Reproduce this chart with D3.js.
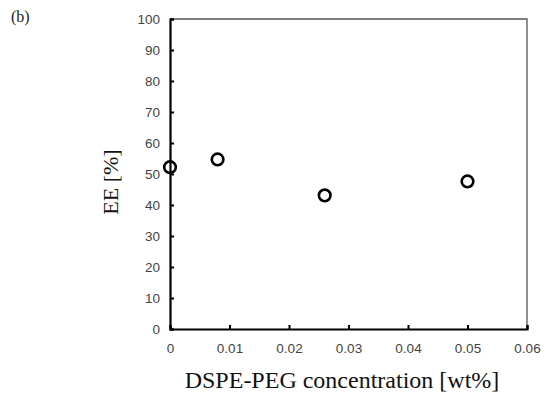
<!DOCTYPE html>
<html>
<head>
<meta charset="utf-8">
<script src="https://cdn.jsdelivr.net/npm/d3@7"></script>
<style>
  body { margin: 0; background: #fff; }
  svg { display: block; }
</style>
</head>
<body>
<div id="drawing"></div>
<script>
// DSPE-PEG concentration [wt%] vs EE [%]
var concentration = [0, 0.008, 0.026, 0.05];
var ee = [52.2, 54.7, 43.1, 47.6];
var xTicks = [0, 0.01, 0.02, 0.03, 0.04, 0.05, 0.06];
var yTicks = [0, 10, 20, 30, 40, 50, 60, 70, 80, 90, 100];

var W = 549, H = 394;
var plotL = 170, plotR = 527, plotT = 19, plotB = 329;

var svg = d3.select("#drawing").append("svg")
    .attr("width", W)
    .attr("height", H);

var x = d3.scaleLinear().domain([0, 0.06]).range([plotL, plotR]);
var y = d3.scaleLinear().domain([0, 100]).range([plotB, plotT]);

// frame: top and right thin gray
svg.append("path")
    .attr("d", "M" + plotL + "," + plotT + "H" + plotR + "V" + plotB)
    .attr("fill", "none")
    .attr("stroke", "#555")
    .attr("stroke-width", 1.3);

var tickFont = "'Liberation Sans', Arial, sans-serif";

// y axis, ticks pointing inward
var yAxis = svg.append("g")
    .attr("transform", "translate(" + plotL + ",0)")
    .call(d3.axisRight(y).tickValues(yTicks).tickSize(4).tickFormat(d3.format("d")));
yAxis.select(".domain").attr("stroke", "#000").attr("stroke-width", 2.2);
yAxis.selectAll(".tick line").attr("stroke", "#000").attr("stroke-width", 2);
yAxis.selectAll(".tick text")
    .attr("x", -10)
    .attr("text-anchor", "end")
    .attr("fill", "#444")
    .style("font-family", tickFont)
    .style("font-size", "13.5px");

// x axis, ticks pointing up
var xAxis = svg.append("g")
    .attr("transform", "translate(0," + plotB + ")")
    .call(d3.axisTop(x).tickValues(xTicks).tickSize(4).tickFormat(function (d) { return d === 0 ? "0" : d3.format(".2f")(d); }));
xAxis.select(".domain").attr("stroke", "#000").attr("stroke-width", 2.2);
xAxis.selectAll(".tick line").attr("stroke", "#000").attr("stroke-width", 2);
xAxis.selectAll(".tick text")
    .attr("y", 24)
    .attr("dy", "0")
    .attr("fill", "#444")
    .style("font-family", tickFont)
    .style("font-size", "13.5px");

// points
svg.selectAll(".pt")
    .data(concentration)
    .enter()
    .append("circle")
    .attr("class", "pt")
    .attr("cx", function (d) { return x(d); })
    .attr("cy", function (d, i) { return y(ee[i]); })
    .attr("r", 5.8)
    .attr("fill", "none")
    .attr("stroke", "#000")
    .attr("stroke-width", 2.6);

var serif = "'Liberation Serif', 'Times New Roman', serif";

svg.append("text")
    .attr("x", 342)
    .attr("y", 388)
    .attr("text-anchor", "middle")
    .style("font-family", serif)
    .style("font-size", "24px")
    .attr("fill", "#111")
    .text("DSPE-PEG concentration [wt%]");

svg.append("text")
    .attr("transform", "translate(118,182) rotate(-90)")
    .attr("text-anchor", "middle")
    .style("font-family", serif)
    .style("font-size", "22px")
    .attr("fill", "#111")
    .text("EE [%]");

svg.append("text")
    .attr("x", 11)
    .attr("y", 22)
    .style("font-family", serif)
    .style("font-size", "16px")
    .attr("fill", "#222")
    .text("(b)");
</script>
</body>
</html>
